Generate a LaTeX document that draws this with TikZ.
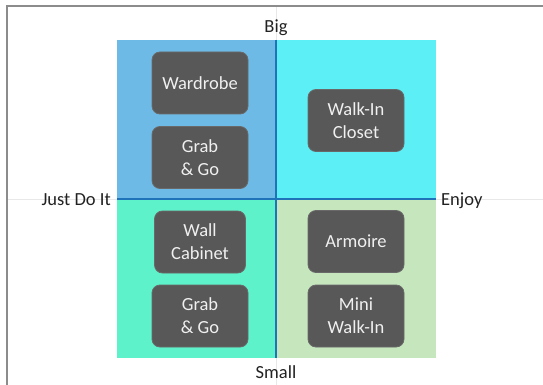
\documentclass[tikz,border=0pt]{standalone}
\usepackage{fontspec}
\setmainfont{Carlito}
\definecolor{qtl}{RGB}{110,186,230}
\definecolor{qtr}{RGB}{92,240,246}
\definecolor{qbl}{RGB}{94,242,202}
\definecolor{qbr}{RGB}{198,231,190}
\definecolor{axisblue}{RGB}{30,115,185}
\definecolor{boxgray}{RGB}{88,88,88}
\definecolor{boxedge}{RGB}{105,105,105}
\definecolor{labtxt}{RGB}{34,34,34}
\definecolor{frame}{RGB}{140,140,140}
\definecolor{grid}{RGB}{232,232,232}
\tikzset{
  item/.style={rectangle, rounded corners=8pt, fill=boxgray, draw=boxedge, line width=0.8pt,
    minimum width=96pt, minimum height=62pt, text=white!94!black, align=center,
    font=\fontsize{18.5pt}{23pt}\selectfont, inner sep=0pt},
  axlabel/.style={text=labtxt, font=\fontsize{18.5pt}{23pt}\selectfont, inner sep=0pt}
}
\begin{document}
\begin{tikzpicture}[x=1pt,y=-1pt]
\useasboundingbox (0,0) rectangle (543,385);
\fill[white] (0,0) rectangle (543,385);
% faint grid
\draw[grid, line width=0.8pt] (7,199) -- (543,199);
\draw[grid, line width=0.8pt] (276,6) -- (276,385);
% frame
\draw[frame, line width=1.5pt] (7,400) -- (7,6) -- (560,6);
% quadrants
\fill[qtl] (117,40) rectangle (276,199);
\fill[qtr] (276,40) rectangle (436,199);
\fill[qbl] (117,199) rectangle (276,358);
\fill[qbr] (276,199) rectangle (436,358);
\coordinate (top) at (276,40);
\coordinate (bot) at (276,358);
\coordinate (lft) at (117,199);
\coordinate (rgt) at (436,199);
\draw[axisblue, line width=1.4pt] (top) -- (bot);
\draw[axisblue, line width=1.4pt] (lft) -- (rgt);
% axis labels
\node[axlabel, anchor=base] (big) at (276,33) {Big};
\node[axlabel, anchor=base] (small) at (276,378) {Small};
\node[axlabel, anchor=base east] (just) at (111,205) {Just Do It};
\node[axlabel, anchor=base west] (enjoy) at (441,205) {Enjoy};
% items
\node[item] (wardrobe) at (200,83) {Wardrobe};
\node[item] (grab1) at (200,157.5) {Grab\\\& Go};
\node[item] (walkin) at (356,120.5) {Walk-In\\Closet};
\node[item, minimum width=91pt] (wall) at (200,242) {Wall\\Cabinet};
\node[item] (armoire) at (356,241.5) {Armoire};
\node[item] (grab2) at (200,316) {Grab\\\& Go};
\node[item] (mini) at (356,316) {Mini\\Walk-In};
\end{tikzpicture}
\end{document}
